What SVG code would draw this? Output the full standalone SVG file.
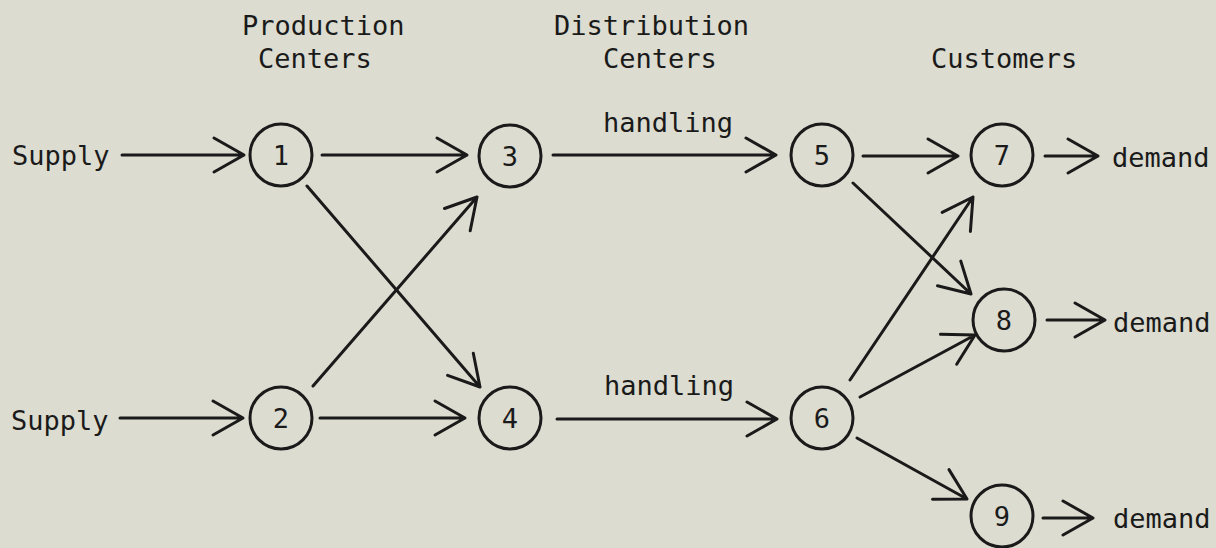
<svg xmlns="http://www.w3.org/2000/svg" width="1216" height="548" viewBox="0 0 1216 548">
  <style>
    .bg { fill: #dcdcd0; }
    .node circle { fill: none; stroke: #1a1a1a; stroke-width: 3; }
    .node text, .label { font-family: "DejaVu Sans Mono", "Liberation Mono", monospace; font-size: 27px; fill: #1a1a1a; }
    .node text { text-anchor: middle; }
    .edge { fill: none; stroke: #1a1a1a; stroke-width: 3; stroke-linecap: round; stroke-linejoin: round; }
  </style>

  <rect class="bg" x="0" y="0" width="1216" height="548"/>

  <!-- column headings -->
  <g id="headings">
    <text class="label" x="242" y="35">Production</text>
    <text class="label" x="258" y="68">Centers</text>
    <text class="label" x="554" y="35">Distribution</text>
    <text class="label" x="603" y="68">Centers</text>
    <text class="label" x="931" y="68">Customers</text>
  </g>

  <!-- source / sink / arc labels -->
  <g id="labels">
    <text class="label" x="12" y="165">Supply</text>
    <text class="label" x="11" y="430">Supply</text>
    <text class="label" x="603" y="132">handling</text>
    <text class="label" x="604" y="395">handling</text>
    <text class="label" x="1112" y="167">demand</text>
    <text class="label" x="1113" y="332">demand</text>
    <text class="label" x="1113" y="528">demand</text>
  </g>

  <!-- each arc: shaft, then an open chevron whose tip is the shaft end -->
  <g id="connectors">
    <path class="edge" d="M122 155 L244 155 M214 138 L244 155 L214 172"/>
    <path class="edge" d="M120 418 L243 418 M213 401 L243 418 L213 435"/>
    <path class="edge" d="M322 155 L467 155 M437 138 L467 155 L437 172"/>
    <path class="edge" d="M320 418 L465 418 M435 401 L465 418 L435 435"/>
    <path class="edge" d="M307 186 L480 387 M447.6 375.4 L480 387 L473.3 353.2"/>
    <path class="edge" d="M313 386 L477 197 M470.2 230.8 L477 197 L444.5 208.5"/>
    <path class="edge" d="M553 155 L776 155 M746 138 L776 155 L746 172"/>
    <path class="edge" d="M557 419 L777 419 M747 402 L777 419 L747 436"/>
    <path class="edge" d="M863 156 L958 156 M928 139 L958 156 L928 173"/>
    <path class="edge" d="M853 183 L971 294 M937.5 285.8 L971 294 L960.8 261.1"/>
    <path class="edge" d="M850 380 L973 197 M970.4 231.4 L973 197 L942.2 212.4"/>
    <path class="edge" d="M860 397 L975 335 M956.7 364.2 L975 335 L940.5 334.3"/>
    <path class="edge" d="M857 438 L967 499 M932.5 499.3 L967 499 L949 469.6"/>
    <path class="edge" d="M1045 156 L1098 156 M1068 139 L1098 156 L1068 173"/>
    <path class="edge" d="M1047 320 L1105 320 M1075 303 L1105 320 L1075 337"/>
    <path class="edge" d="M1043 518 L1093 518 M1063 501 L1093 518 L1063 535"/>
  </g>

  <g id="node1" class="node"><circle cx="281" cy="155" r="31"/><text x="281" y="165">1</text></g>
  <g id="node2" class="node"><circle cx="281" cy="418" r="31"/><text x="281" y="428">2</text></g>
  <g id="node3" class="node"><circle cx="510" cy="156" r="31"/><text x="510" y="166">3</text></g>
  <g id="node4" class="node"><circle cx="510" cy="418" r="31"/><text x="510" y="428">4</text></g>
  <g id="node5" class="node"><circle cx="822" cy="155" r="31"/><text x="822" y="165">5</text></g>
  <g id="node6" class="node"><circle cx="822" cy="418" r="31"/><text x="822" y="428">6</text></g>
  <g id="node7" class="node"><circle cx="1002" cy="155" r="31"/><text x="1002" y="165">7</text></g>
  <g id="node8" class="node"><circle cx="1004" cy="320" r="31"/><text x="1004" y="330">8</text></g>
  <g id="node9" class="node"><circle cx="1002" cy="516" r="31"/><text x="1002" y="526">9</text></g>
</svg>
